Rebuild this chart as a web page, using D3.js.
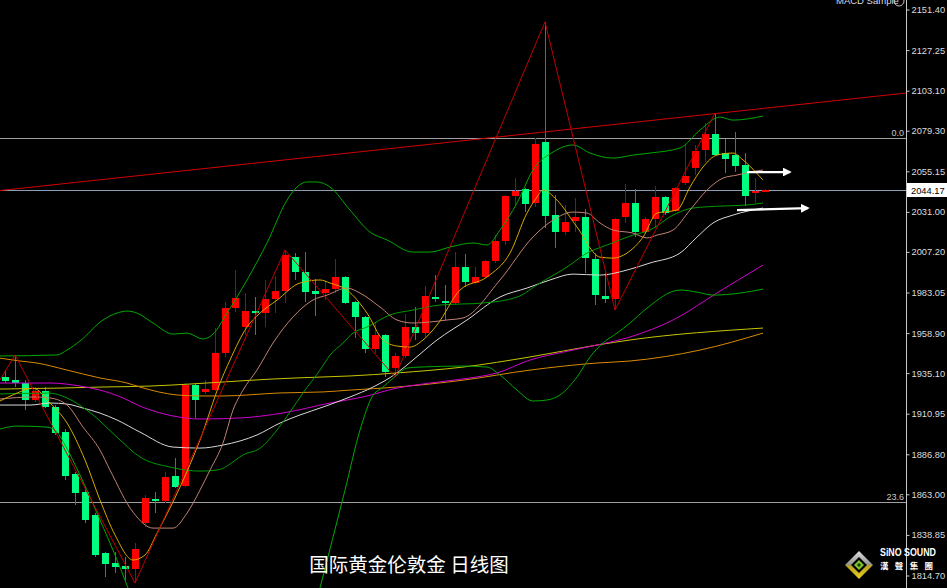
<!DOCTYPE html>
<html><head><meta charset="utf-8">
<script src="https://cdn.jsdelivr.net/npm/d3@7"></script>
<style>html,body{margin:0;padding:0;background:#000;overflow:hidden}</style>
</head><body>
<svg id="c" width="947" height="588"></svg>
<script>
// ---------- DATA (daily candles, index 0..76) ----------
const opens  = [1932.9,1931.0,1929.4,1919.1,1924.6,1915.1,1900.0,1875.1,1864.4,1850.7,1828.1,1822.1,1820.5,1818.7,1846.1,1860.2,1859.0,1873.9,1867.9,1928.0,1923.9,1925.0,1947.0,1973.8,1962.5,1972.0,1970.8,1979.2,1983.9,2004.2,1995.2,1983.9,1982.7,1985.1,1992.3,1977.4,1968.5,1949.4,1957.8,1938.1,1945.3,1962.5,1958.9,1980.4,1978.0,1976.8,1998.2,1988.7,1992.3,2001.8,2013.7,2040.5,2044.6,2036.3,2072.5,2029.2,2019.0,2025.6,2028.0,2002.9,1980.9,1979.2,2028.0,2036.3,2019.0,2026.8,2039.9,2031.5,2048.2,2057.1,2067.8,2077.3,2066.0,2064.8,2058.9,2042.2,2043.6];
const highs  = [1936.9,1945.9,1931.0,1927.0,1926.8,1916.1,1901.8,1876.4,1867.5,1851.9,1828.8,1828.8,1825.9,1834.0,1862.6,1864.5,1876.4,1884.6,1929.2,1929.2,1931.0,1961.9,1977.4,1996.4,1982.8,1980.4,1990.5,1992.9,2008.3,2006.5,2007.1,1991.1,1989.9,2003.0,1992.9,1978.0,1969.0,1964.9,1958.3,1947.0,1970.2,1974.4,1986.9,1993.5,1987.5,2007.1,2005.9,1998.2,2002.4,2017.3,2041.1,2051.2,2045.2,2075.0,2144.0,2041.1,2035.1,2039.3,2032.7,2006.5,1994.6,2027.4,2047.6,2044.6,2028.0,2046.4,2040.5,2045.8,2070.8,2070.8,2083.9,2089.0,2074.4,2078.5,2066.0,2051.2,2044.6];
const lows   = [1929.2,1927.0,1913.1,1918.1,1914.3,1898.3,1871.5,1856.6,1845.9,1825.7,1814.0,1816.2,1812.0,1810.5,1843.7,1852.0,1857.8,1866.7,1867.5,1908.4,1922.6,1924.4,1944.7,1971.4,1957.8,1957.8,1962.5,1970.8,1976.8,1990.5,1977.4,1969.0,1978.6,1982.7,1976.2,1956.0,1947.0,1947.0,1932.8,1932.8,1944.1,1954.8,1956.6,1977.4,1966.7,1975.6,1986.3,1988.1,1991.7,2000.6,2011.3,2035.1,2031.0,2033.9,2021.4,2009.5,2017.2,2019.0,1994.6,1975.6,1976.8,1972.6,2024.4,2016.1,2018.4,2021.4,2029.2,2031.0,2047.0,2053.0,2060.7,2064.2,2054.1,2054.7,2034.5,2036.3,2043.2];
const closes = [1930.5,1929.4,1919.1,1924.6,1915.1,1899.6,1873.9,1863.9,1847.7,1826.9,1821.5,1819.9,1818.7,1830.5,1860.8,1859.0,1873.5,1867.5,1928.0,1919.1,1925.6,1947.0,1973.8,1979.8,1972.0,1970.8,1979.2,1983.9,2005.4,1995.2,1983.3,1982.1,1985.1,1992.3,1976.8,1968.5,1949.4,1957.8,1935.8,1945.3,1962.5,1958.9,1981.0,1979.2,1976.8,1998.2,1989.3,1992.3,2001.8,2013.7,2040.5,2043.4,2035.7,2071.4,2028.6,2019.0,2025.0,2028.0,2003.5,1981.5,1979.2,2026.8,2036.3,2019.0,2026.8,2039.9,2030.3,2045.2,2052.3,2067.2,2077.3,2064.8,2062.4,2058.3,2040.5,2043.4,2044.17];

const priceTicks = [2151.40,2127.25,2103.10,2079.30,2055.15,2031.00,2007.20,1983.05,1958.90,1935.10,1910.95,1886.80,1863.00,1838.85,1814.70];
const currentPrice = 2044.17;
const fibLevels = [{label:"0.0", value:2074.8},{label:"23.6", value:1858.6}];

// indicator lines: [candle index, price]
const bbUpper = [[-0.5,1945.3],[5.2,1945.9],[6.2,1948.8],[7.5,1954.2],[9.8,1966.7],[11.2,1970.8],[12.2,1972.0],[13.2,1970.8],[14.8,1964.9],[16.8,1958.3],[18.2,1958.9],[19.8,1955.4],[20.8,1958.3],[22.2,1970.8],[24.2,1990.5],[26.2,2012.5],[28.2,2038.0],[29.2,2045.8],[30.2,2048.8],[31.2,2048.8],[32.5,2045.8],[34.5,2032.1],[36.5,2019.0],[38.2,2014.3],[40.8,2007.1],[42.5,2007.1],[44.5,2010.1],[46.8,2012.5],[48.2,2011.3],[49.5,2020.2],[51.2,2036.3],[52.8,2055.9],[54.8,2066.6],[56.8,2070.8],[58.5,2066.0],[60.8,2063.0],[62.8,2064.8],[64.5,2066.0],[67.5,2069.0],[69.5,2079.7],[71.5,2087.4],[72.8,2085.6],[75.8,2088.0]];
const bbMiddle = [[-0.5,1922.7],[4.5,1923.2],[6.2,1920.3],[8.8,1910.2],[11.2,1897.0],[13.5,1885.2],[16.5,1879.2],[19.5,1876.8],[21.2,1877.4],[24.2,1887.5],[25.2,1889.3],[27.2,1901.2],[28.5,1912.0],[29.8,1923.3],[31.5,1936.9],[32.5,1945.8],[33.8,1953.0],[34.8,1958.9],[36.2,1962.5],[38.5,1969.7],[40.8,1972.6],[43.5,1975.6],[47.8,1976.8],[51.2,1980.3],[53.5,1988.7],[56.2,1998.2],[58.2,2006.5],[60.2,2011.3],[62.8,2017.2],[64.5,2020.2],[66.8,2029.1],[68.8,2033.3],[71.8,2034.5],[74.2,2035.1],[75.8,2036.3]];
const bbLowerA = [[-0.5,1901.8],[1.2,1903.6],[4.2,1903.0],[5.2,1900.0],[6.0,1892.3],[7.5,1874.4],[9.5,1847.7],[11.0,1826.9],[12.3,1807.3]];
const bbLowerB = [[31.5,1807.3],[34.0,1865.5],[35.5,1901.2],[36.7,1920.9],[37.8,1926.8],[39.2,1934.0],[40.2,1938.1],[41.5,1938.7],[45.8,1939.3],[48.2,1938.7],[49.5,1934.0],[51.2,1925.0],[52.8,1918.5],[54.2,1919.1],[55.5,1922.1],[57.2,1932.8],[58.5,1944.7],[59.8,1953.0],[61.2,1958.9],[62.5,1964.9],[64.2,1973.8],[67.5,1984.5],[69.2,1983.3],[70.8,1981.5],[73.5,1982.7],[75.8,1985.1]];
const maFast = [[-0.5,1918.5],[1.0,1922.7],[2.8,1926.2],[4.5,1917.3],[6.2,1905.4],[8.0,1883.4],[9.5,1859.6],[11.0,1838.8],[12.8,1823.9],[14.0,1826.9],[15.2,1839.9],[17.5,1867.3],[19.5,1895.3],[21.5,1929.2],[22.5,1942.9],[24.2,1962.5],[25.5,1970.8],[27.2,1978.5],[29.5,1988.7],[31.5,1990.5],[32.5,1988.7],[34.2,1984.5],[36.2,1970.8],[37.8,1954.8],[39.2,1951.2],[40.5,1950.6],[41.8,1954.8],[43.2,1963.7],[45.5,1984.5],[48.2,1992.3],[50.5,2006.5],[52.2,2030.3],[53.2,2039.8],[53.8,2044.0],[55.2,2038.0],[57.2,2022.0],[59.5,2004.1],[60.8,2003.5],[62.2,2006.5],[63.8,2016.0],[65.2,2030.3],[67.2,2032.1],[68.5,2045.8],[69.8,2057.7],[71.2,2064.8],[72.8,2066.0],[73.8,2061.9],[75.8,2049.9]];
const maMid = [[-0.5,1919.7],[2.8,1920.9],[4.5,1920.3],[6.2,1916.1],[7.8,1903.0],[9.5,1889.3],[10.5,1877.4],[12.8,1852.4],[14.8,1842.9],[16.8,1842.9],[18.2,1851.8],[19.5,1865.5],[20.5,1877.4],[21.8,1893.5],[22.8,1913.1],[23.8,1925.0],[25.2,1936.9],[26.8,1953.0],[28.8,1968.5],[30.8,1978.6],[32.2,1981.5],[34.2,1985.7],[35.5,1982.7],[37.5,1974.4],[39.2,1966.7],[40.8,1964.9],[42.5,1965.5],[44.2,1966.7],[45.8,1967.9],[49.5,1990.5],[52.8,2016.1],[54.8,2026.1],[56.8,2030.9],[58.2,2030.3],[59.5,2024.4],[60.8,2020.2],[62.8,2018.4],[64.2,2015.5],[65.2,2017.2],[66.8,2020.2],[68.5,2032.1],[70.2,2044.0],[71.8,2051.1],[73.2,2052.9],[74.5,2054.7],[75.8,2055.9]];
const maSlow = [[-0.5,1916.1],[2.5,1916.1],[4.5,1917.3],[6.2,1916.7],[7.8,1914.3],[9.5,1911.3],[11.2,1907.2],[13.5,1900.0],[16.8,1891.1],[19.5,1890.5],[21.8,1892.3],[25.2,1898.3],[27.5,1905.4],[29.5,1910.2],[31.8,1914.9],[34.5,1920.9],[36.8,1926.8],[39.2,1935.2],[40.8,1942.9],[43.2,1954.8],[46.2,1966.7],[49.5,1980.4],[52.2,1985.7],[54.5,1990.5],[56.8,1994.0],[59.5,1993.4],[62.2,1996.4],[64.5,2000.6],[67.5,2006.5],[69.2,2016.0],[70.8,2024.4],[72.8,2029.1],[75.8,2033.3]];
const maMagenta = [[-0.5,1929.2],[4.5,1929.2],[7.5,1927.4],[9.5,1925.0],[11.8,1920.3],[13.5,1915.5],[16.8,1909.6],[19.5,1907.8],[23.5,1908.4],[27.8,1911.4],[32.5,1917.3],[35.8,1920.9],[39.2,1926.2],[42.5,1929.2],[46.5,1932.2],[49.2,1935.2],[52.5,1942.9],[55.8,1947.6],[59.2,1951.8],[62.5,1956.6],[66.8,1966.7],[71.5,1983.9],[75.8,1999.4]];
const maOrange = [[-0.5,1944.0],[1.5,1942.3],[3.2,1941.1],[6.2,1936.9],[9.5,1932.2],[12.2,1929.2],[13.5,1926.8],[17.2,1922.1],[19.5,1921.5],[21.8,1921.5],[27.5,1923.3],[31.8,1923.9],[34.5,1925.0],[39.2,1926.8],[45.8,1930.9],[52.5,1936.9],[59.2,1941.1],[62.5,1942.3],[69.5,1948.8],[75.8,1958.9]];
const maYellow = [[-0.5,1925.6],[5.5,1926.2],[9.5,1926.8],[14.5,1927.4],[18.5,1928.6],[21.8,1929.8],[26.8,1931.6],[31.8,1932.8],[34.5,1933.4],[39.2,1935.2],[45.8,1938.7],[52.5,1944.7],[59.2,1951.8],[62.5,1954.8],[75.8,1961.9]];
const zigzag = [[-0.5,1931.0],[1,1945.9],[13,1810.2],[28,2008.3],[39,1932.8],[54,2144.0],[61,1972.6],[71,2089.8]];
const trendLine = [[-0.5,2043.7],[90.1,2101.7]];
const arrows = [[[74.2,2054.7],[78.5,2054.7]],[[73.2,2032.1],[80.3,2033.3]]];

const caption = "国际黄金伦敦金 日线图";

// ---------- DRAW ----------
const svg = d3.select("#c");
svg.append("rect").attr("width",947).attr("height",588).attr("fill","#000");
const axisX = 906.5;
const x = d3.scaleLinear().domain([-0.5, 90.1]).range([0, 906]);
const y = d3.scaleLinear().domain([1814.70, 2151.40]).range([575.5, 9.5]);

const defs = svg.append("defs");
defs.append("clipPath").attr("id","plot").append("rect").attr("x",0).attr("y",0).attr("width",906).attr("height",588);
defs.append("marker").attr("id","arr").attr("viewBox","0 0 10 10").attr("refX",8).attr("refY",5)
  .attr("markerWidth",4).attr("markerHeight",4).attr("orient","auto")
  .append("path").attr("d","M0,0L10,5L0,10z").attr("fill","#fff");
const grad = defs.append("linearGradient").attr("id","lg").attr("x1",0).attr("y1",0).attr("x2",0).attr("y2",1);
grad.append("stop").attr("offset","0%").attr("stop-color","#e0e0e0");
grad.append("stop").attr("offset","50%").attr("stop-color","#909090");
grad.append("stop").attr("offset","52%").attr("stop-color","#b8a020");
grad.append("stop").attr("offset","100%").attr("stop-color","#e8d020");

const g = svg.append("g").attr("clip-path","url(#plot)");

// horizontal levels
fibLevels.forEach(f=>{
  g.append("line").attr("x1",0).attr("x2",906).attr("y1",Math.round(y(f.value))+0.5).attr("y2",Math.round(y(f.value))+0.5)
   .attr("stroke","#a0a0a0").attr("stroke-width",1);
});
g.append("line").attr("x1",0).attr("x2",906).attr("y1",Math.round(y(currentPrice))+0.5).attr("y2",Math.round(y(currentPrice))+0.5)
  .attr("stroke","#8c9db8").attr("stroke-width",1);

// candles
const idx = d3.range(opens.length);
const cg = g.append("g").attr("shape-rendering","crispEdges");
idx.forEach(i=>{
  const up = closes[i] >= opens[i];
  const cx = Math.round(x(i));
  cg.append("rect").attr("x",cx).attr("width",1)
    .attr("y",y(highs[i])).attr("height",Math.max(1,y(lows[i])-y(highs[i])))
    .attr("fill", up ? "#b00000" : "#00b000");
  const top = y(Math.max(opens[i],closes[i])), bot = y(Math.min(opens[i],closes[i]));
  cg.append("rect").attr("x",cx-3).attr("width",7)
    .attr("y",top).attr("height",Math.max(2,bot-top))
    .attr("fill", up ? "#ff0000" : "#00ff80");
});

// lines
const line = d3.line().x(d=>x(d[0])).y(d=>y(d[1])).curve(d3.curveMonotoneX);
const straight = d3.line().x(d=>x(d[0])).y(d=>y(d[1]));
const draw = (data,color,w,gen)=> g.append("path").datum(data).attr("d",(gen||line)).attr("fill","none")
   .attr("stroke",color).attr("stroke-width",w||1);

draw(trendLine,"#d00000",1,straight);
draw(maYellow,"#c8c400");
draw(maOrange,"#d88a00");
draw(maMagenta,"#d000d0");
draw(maSlow,"#d8d8d8");
draw(bbLowerA,"#00a800");
draw(bbLowerB,"#00a800");
draw(bbMiddle,"#009a00");
draw(bbUpper,"#00a800");
draw(maMid,"#c08272");
draw(maFast,"#d8a800");
draw(zigzag,"#c00000",1,straight);

arrows.forEach(a=>{
  g.append("path").datum(a).attr("d",straight).attr("stroke","#fff").attr("stroke-width",2.2)
   .attr("fill","none").attr("marker-end","url(#arr)");
});

// fib labels
fibLevels.forEach(f=>{
  svg.append("text").attr("x",904).attr("y",Math.round(y(f.value))-2).attr("text-anchor","end")
    .attr("font-family","Liberation Sans, Arial, sans-serif").attr("font-size",9).attr("fill","#c8c8c8").text(f.label);
});

// right axis
const axis = d3.axisRight(y).tickValues(priceTicks).tickFormat(d3.format(".2f")).tickSize(3).tickPadding(2);
const ag = svg.append("g").attr("transform",`translate(${axisX},0)`).call(axis);
ag.select(".domain").attr("d","M0,0V588").attr("stroke","#c8c8c8");
ag.selectAll(".tick line").attr("stroke","#c8c8c8");
ag.selectAll(".tick text").attr("fill","#dcdcdc").attr("font-family","Liberation Sans, Arial, sans-serif").attr("font-size",9.3);

// current price box
svg.append("rect").attr("x",907).attr("y",Math.round(y(currentPrice))-7).attr("width",40).attr("height",14).attr("fill","#fff");
svg.append("text").attr("x",911).attr("y",Math.round(y(currentPrice))+4).attr("font-family","Liberation Sans, Arial, sans-serif")
  .attr("font-size",9.3).attr("fill","#000").text(d3.format(".2f")(currentPrice));

// MACD Sample label (top right, clipped like the reference)
svg.append("text").attr("x",836).attr("y",4).attr("font-family","Liberation Sans, Arial, sans-serif").attr("font-size",9.5)
  .attr("fill","#d8dce8").text("MACD Sample");
svg.append("circle").attr("cx",899).attr("cy",1).attr("r",5).attr("fill","none").attr("stroke","#c0c0c0");

// caption
svg.append("text").attr("x",409).attr("y",572).attr("text-anchor","middle")
  .attr("font-family","Noto Sans CJK SC, sans-serif").attr("font-size",19.5).attr("fill","#fff").text(caption);

// logo
const lg = svg.append("g").attr("transform","translate(859,565)");
lg.append("path").attr("d","M0,-14L14,0L0,14L-14,0Z").attr("fill","url(#lg)");
lg.append("path").attr("d","M0,-8L8,0L0,8L-8,0Z").attr("fill","#000");
lg.append("path").attr("d","M0,-5L5,0L0,5L-5,0Z").attr("fill","#7cc030");
lg.append("path").attr("d","M0,-2L2,0L0,2L-2,0Z").attr("fill","#1a3a00");
svg.append("text").attr("x",880).attr("y",556).attr("font-family","Liberation Sans, Arial, sans-serif").attr("font-weight","bold")
  .attr("font-size",10).attr("fill","#fff").attr("textLength",56).attr("lengthAdjust","spacingAndGlyphs").text("SiNO SOUND");
svg.append("text").attr("x",880).attr("y",569).attr("font-family","Noto Sans CJK TC, sans-serif").attr("font-weight","bold")
  .attr("font-size",8.5).attr("fill","#fff").attr("textLength",53).attr("lengthAdjust","spacing").text("漢聲集團");
</script>
</body></html>
